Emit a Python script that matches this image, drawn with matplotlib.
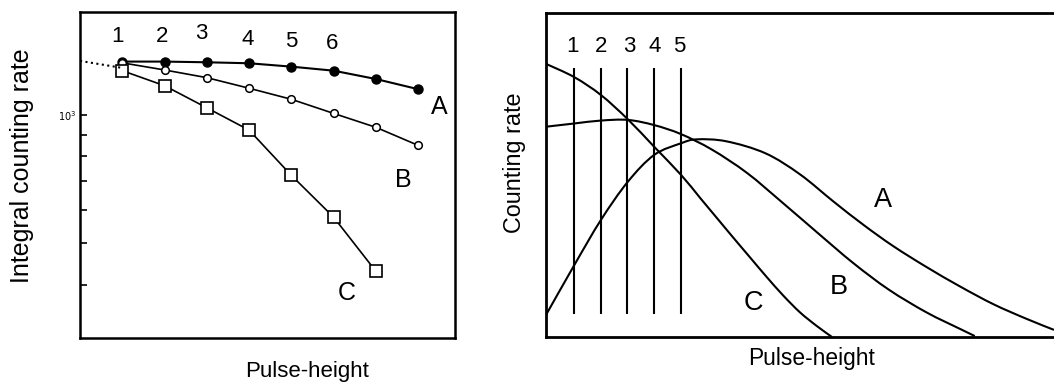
import matplotlib
matplotlib.use("Agg")
import matplotlib.pyplot as plt
from matplotlib.path import Path
from matplotlib.patches import PathPatch
from matplotlib.ticker import FixedLocator, NullFormatter, NullLocator

plt.rcParams['font.family'] = ['Liberation Sans', 'DejaVu Sans']

# ---------------- Left panel data (integral counting rate, log scale) ----------
pos_A = [1, 2, 3, 4, 5, 6, 7, 8]
rate_A = [1335, 1335, 1330, 1323, 1299, 1271, 1215, 1150]
pos_B = [1, 2, 3, 4, 5, 6, 7, 8]
rate_B = [1326, 1276, 1224, 1156, 1089, 1009, 936, 849]
pos_C = [1, 2, 3, 4, 5, 6, 7]
rate_C = [1271, 1172, 1040, 922, 722, 576, 430]
lead_x = [0, 1]
lead_y = [1340, 1290]
left_numbers = ['1', '2', '3', '4', '5', '6']
left_number_x = [0.88, 1.95, 2.88, 3.96, 4.99, 5.96]
left_number_y = [1526, 1530, 1551, 1501, 1485, 1469]
minor_ticks = [400, 500, 600, 700, 800, 900]

# ---------------- Right panel data (differential counting rate) ---------------
cA_x = [0, 5.57, 10.8, 16.1, 21.3, 26.6, 29.7, 35.5, 43.2, 50.0, 56.6, 62.5, 68.4, 74.9, 81.5, 88.1, 94.6, 100]
cA_y = [6.8, 22.2, 36.1, 47.9, 56.2, 59.8, 61.0, 60.4, 56.7, 50.2, 41.8, 34.6, 28.0, 21.6, 15.6, 10.1, 5.6, 2.2]
cB_x = [0, 5.57, 10.8, 16.1, 21.3, 26.6, 32.7, 39.6, 46.6, 53.5, 60.5, 67.5, 74.9, 81.5, 84.4]
cB_y = [64.9, 65.9, 66.8, 67.0, 65.4, 62.6, 57.8, 50.6, 41.4, 32.1, 22.8, 14.6, 7.6, 2.5, 0.3]
cC_x = [0, 5.57, 10.8, 16.1, 21.3, 26.6, 30.3, 33.6, 36.9, 40.2, 43.4, 46.7, 50.0, 53.3, 56.3]
cC_y = [84.3, 80.2, 74.7, 67.2, 58.7, 50.0, 43.0, 36.8, 30.6, 24.5, 18.6, 12.8, 7.6, 3.4, 0.0]
window_x = [5.57, 10.77, 16.0, 21.3, 26.6]
window_lo, window_hi = 7.1, 82.9
window_labels = ['1', '2', '3', '4', '5']
window_label_x = [5.2, 10.8, 16.3, 21.3, 26.2]


def smooth_path(xs, ys):
    """Catmull-Rom curve through the read points, as cubic Bezier segments."""
    pts = list(zip(xs, ys))
    verts = [pts[0]]
    codes = [Path.MOVETO]
    n = len(pts)
    for i in range(n - 1):
        p0 = pts[i - 1] if i > 0 else pts[i]
        p1 = pts[i]
        p2 = pts[i + 1]
        p3 = pts[i + 2] if i + 2 < n else pts[i + 1]
        c1 = (p1[0] + (p2[0] - p0[0]) / 6, p1[1] + (p2[1] - p0[1]) / 6)
        c2 = (p2[0] - (p3[0] - p1[0]) / 6, p2[1] - (p3[1] - p1[1]) / 6)
        verts += [c1, c2, p2]
        codes += [Path.CURVE4] * 3
    return Path(verts, codes)


W, H = 1054, 384
fig = plt.figure(figsize=(W / 100, H / 100), dpi=100)

# ---------------- Left axes ----------------
axL = fig.add_axes([80 / W, (H - 338) / H, 375 / W, 326 / H])
axL.set_yscale('log')
axL.set_xlim(0, 8.87)
axL.set_ylim(300, 1745)
axL.plot(pos_A, rate_A, '-o', color='black', lw=1.5, ms=6.5, mfc='black', mec='black')
axL.plot(pos_B, rate_B, '-o', color='black', lw=1.2, ms=5.5, mfc='white', mec='black', mew=1.1)
axL.plot(pos_C, rate_C, '-s', color='black', lw=1.2, ms=8, mfc='white', mec='black', mew=1.2)
axL.plot(lead_x, lead_y, ':', color='black', lw=1.5)
axL.xaxis.set_major_locator(NullLocator())
axL.xaxis.set_minor_locator(NullLocator())
axL.yaxis.set_major_locator(FixedLocator([1000]))
axL.yaxis.set_minor_locator(FixedLocator(minor_ticks))
axL.yaxis.set_minor_formatter(NullFormatter())
axL.set_yticklabels(['$10^3$'], fontsize=7, family='DejaVu Serif')
axL.tick_params(axis='y', which='both', direction='in', length=5, width=1.2, pad=3)
for s in axL.spines.values():
    s.set_linewidth(1.8)
for lbl, xp, yp in zip(left_numbers, left_number_x, left_number_y):
    axL.text(xp, yp, lbl, fontsize=16, ha='center', va='center')
axL.text(8.5, 1046, 'A', fontsize=18, ha='center', va='center')
axL.text(7.65, 703, 'B', fontsize=18, ha='center', va='center')
axL.text(6.31, 382, 'C', fontsize=18, ha='center', va='center')
fig.text(22 / W, 1 - 166 / H, 'Integral counting rate', fontsize=18,
         rotation=90, ha='center', va='center')
fig.text(307 / W, 1 - 371 / H, 'Pulse-height', fontsize=16, ha='center', va='center')

# ---------------- Right axes ----------------
axR = fig.add_axes([546 / W, (H - 337) / H, (W - 546) / W, 324 / H])
axR.set_xlim(0, 100)
axR.set_ylim(0, 100)
for xs, ys in [(cA_x, cA_y), (cB_x, cB_y), (cC_x, cC_y)]:
    axR.add_patch(PathPatch(smooth_path(xs, ys), fill=False, edgecolor='black', lw=1.5))
axR.vlines(window_x, window_lo, window_hi, color='black', lw=1.5)
for lbl, xp in zip(window_labels, window_label_x):
    axR.text(xp, 89.8, lbl, fontsize=16, ha='center', va='center')
axR.text(66.4, 42.3, 'A', fontsize=19.5, ha='center', va='center')
axR.text(57.6, 15.5, 'B', fontsize=19.5, ha='center', va='center')
axR.text(40.9, 10.4, 'C', fontsize=19.5, ha='center', va='center')
axR.set_xticks([])
axR.set_yticks([])
axR.spines['right'].set_visible(False)
for k in ['left', 'top', 'bottom']:
    axR.spines[k].set_linewidth(2.0)
fig.text(514 / W, 1 - 163 / H, 'Counting rate', fontsize=16.8,
         rotation=90, ha='center', va='center')
fig.text(812 / W, 1 - 358 / H, 'Pulse-height', fontsize=16.4, ha='center', va='center')

fig.savefig('out.png', dpi=100)
